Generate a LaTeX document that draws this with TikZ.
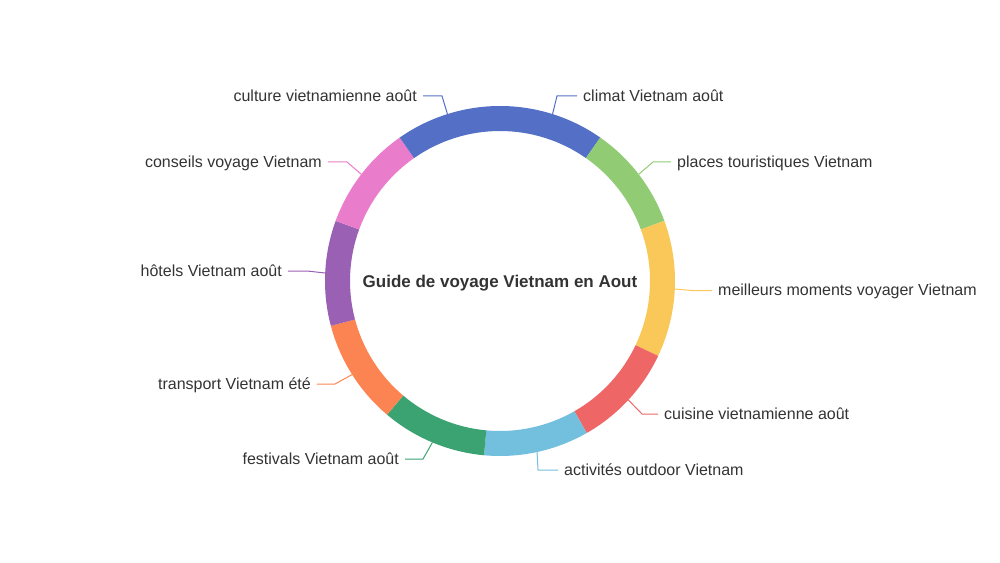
\documentclass[tikz,border=0pt]{standalone}
\usepackage{fontspec}
\setmainfont{Liberation Sans}
\definecolor{sBlue}{HTML}{5470C6}
\definecolor{sGreen}{HTML}{91CC75}
\definecolor{sYellow}{HTML}{FAC858}
\definecolor{sRed}{HTML}{EE6666}
\definecolor{sSky}{HTML}{73C0DE}
\definecolor{sTeal}{HTML}{3BA272}
\definecolor{sOrange}{HTML}{FC8452}
\definecolor{sPurple}{HTML}{9A60B4}
\definecolor{sPink}{HTML}{EA7CCC}
\definecolor{txt}{HTML}{333333}
\begin{document}
\begin{tikzpicture}[x=1pt,y=1pt,
  lbl/.style={inner xsep=6pt,inner ysep=0pt,text height=13pt,text depth=2.5pt,
    text=txt,font=\fontsize{16}{19}\selectfont},
  title/.style={inner sep=0pt,text height=14pt,text depth=1pt,text=txt,
    font=\fontsize{17}{20}\selectfont\bfseries}]
  \useasboundingbox (-500,-281) rectangle (500,281);

  % ring
  \foreach \a/\b/\c in {90/55.05/sBlue,55.05/20.10/sGreen,20.10/-25.34/sYellow,
    -25.34/-60.29/sRed,-60.29/-95.24/sSky,-95.24/-130.19/sTeal,
    -130.19/-165.15/sOrange,-165.15/-200.10/sPurple,-200.10/-235.05/sPink,
    -235.05/-270/sBlue} {%
    \fill[\c] (\a:175pt) arc[start angle=\a,end angle=\b,radius=175pt] --
    (\b:150pt) arc[start angle=\b,end angle=\a,radius=150pt] -- cycle;
  }

  \node[title] (title) at (0,0) {Guide de voyage Vietnam en Aout};

  % labels
  \foreach \c/\m/\bx/\by/\ex/\side/\t [count=\i] in {
    sBlue/72.52/57/185/77/west/climat Vietnam août,
    sGreen/37.57/153/119/171/west/places touristiques Vietnam,
    sYellow/-2.62/192/-9.5/212/west/meilleurs moments voyager Vietnam,
    sRed/-42.82/142/-133/158/west/cuisine vietnamienne août,
    sSky/-77.77/38/-189/58/west/activités outdoor Vietnam,
    sTeal/-112.72/-77/-178/-95/east/festivals Vietnam août,
    sOrange/-147.67/-165/-103/-183/east/transport Vietnam été,
    sPurple/-182.62/-193/10/-212/east/hôtels Vietnam août,
    sPink/-217.57/-153/119/-172/east/conseils voyage Vietnam,
    sBlue/-252.52/-58/185/-77/east/culture vietnamienne août} {%
    \coordinate (s\i) at (\m:175pt);
    \coordinate (b\i) at (\bx,\by);
    \node[lbl,anchor=\side] (l\i) at (\ex,\by) {\t};
    \draw[\c,line width=1pt] (s\i) -- (b\i) -- (l\i.\side);
  }
\end{tikzpicture}
\end{document}
